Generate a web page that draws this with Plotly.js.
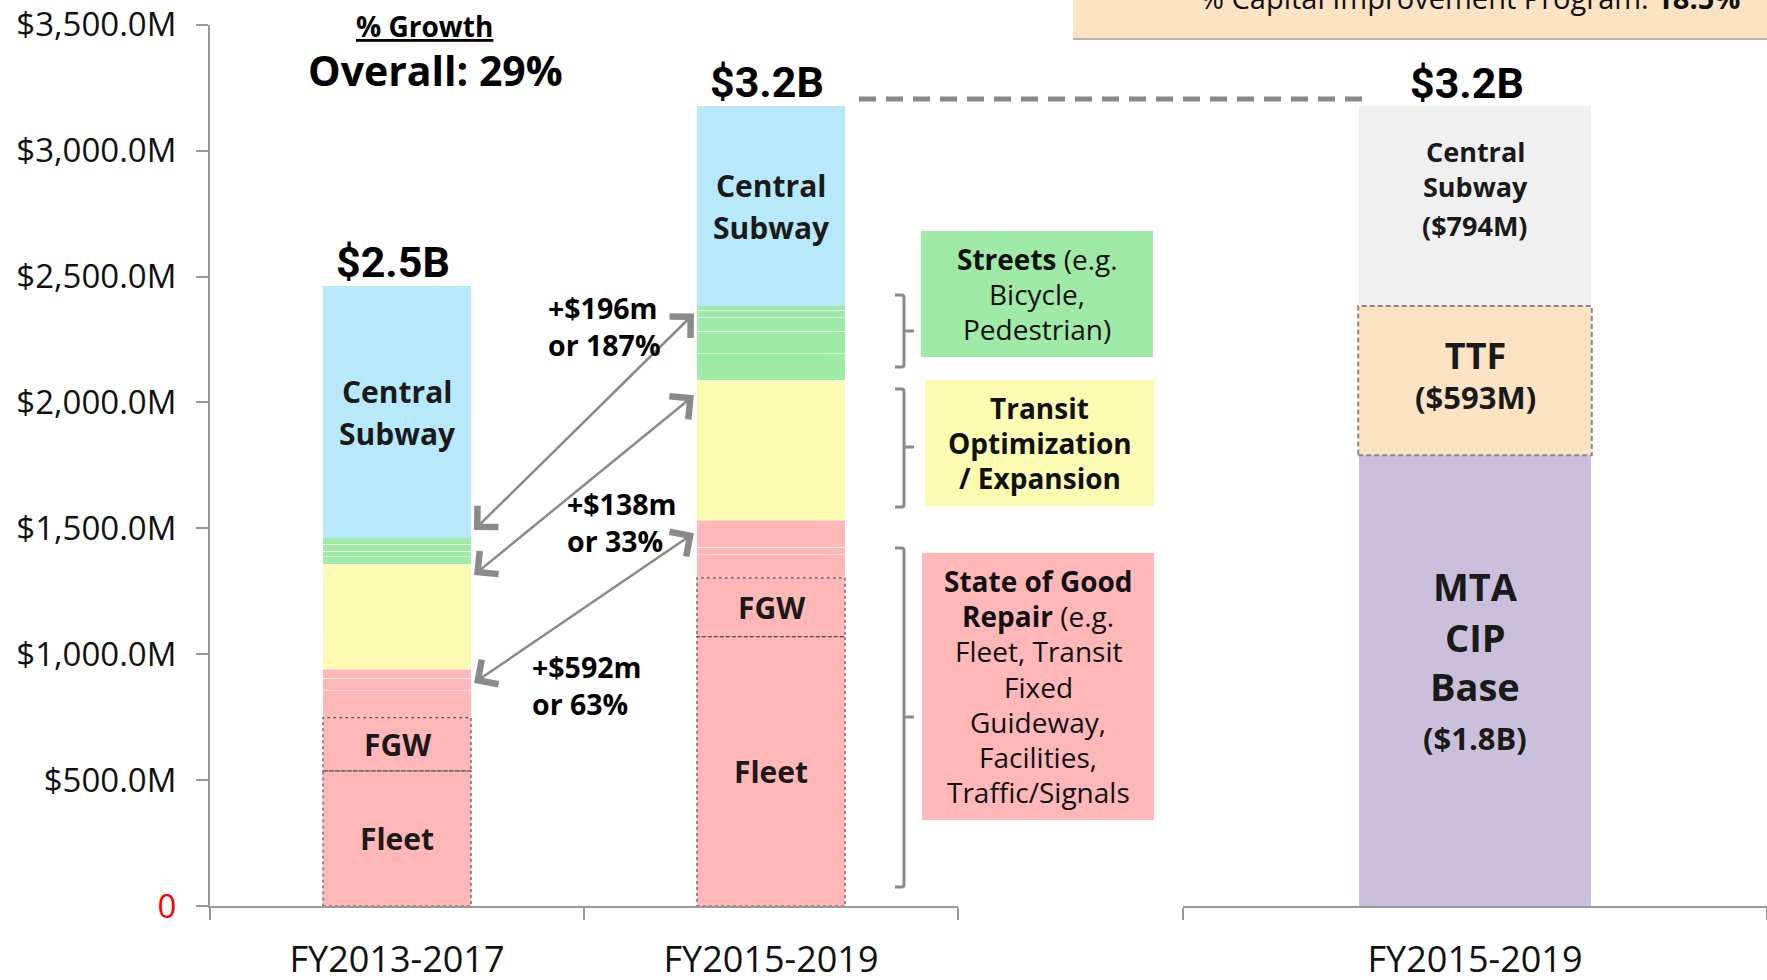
<!DOCTYPE html>
<html><head><meta charset="utf-8">
<script src="https://cdn.plot.ly/plotly-3.0.1.min.js"></script>
<style>html,body{margin:0;padding:0;background:#fff;} #chart{width:1767px;height:980px;}</style>
</head><body><div id="chart"></div>
<script>
// ---------- data ----------
const categories = ['FY2013-2017', 'FY2015-2019'];
const fleet = [537, 1070];
const fgw = [211, 233];
const sgrPartA = [106, 92];
const sgrPartB = [51, 30];
const sgrPartC = [35, 107];
const transit = [418, 556];
const streetsA = [29, 106];
const streetsB = [23, 89];
const streetsC = [27, 53];
const streetsD = [26, 31];
const streetsE = [null, 17];
const centralSubway = [1001, 794];

const fundingCategory = ['FY2015-2019'];
const mtaCipBase = [1790];
const ttf = [593];
const centralSubwayFunding = [794];

const yTickValues = [0, 500, 1000, 1500, 2000, 2500, 3000, 3500];
const yTickLabels = ['<span style="color:#ff0000">0</span>', '$500.0M', '$1,000.0M', '$1,500.0M', '$2,000.0M', '$2,500.0M', '$3,000.0M', '$3,500.0M'];

const growthLabels = ['+$196m<br>or 187%', '+$138m<br>or 33%', '+$592m<br>or 63%'];

// ---------- helpers ----------
const W = 1767, H = 980;
const px = x => x / W;
const py = y => 1 - y / H;
const BW = 0.396;
const FONT = '"Open Sans", "Noto Sans", sans-serif';
const sum = (arrs, i) => arrs.reduce((s, a) => s + (a[i] || 0), 0);

const COL = {
  cs: '#B7E9FB', green: '#9EEAA6', yellow: '#FBFBB1', red: '#FFB7B7',
  gray: '#F0F0F0', ttf: '#FBE3C4', mta: '#CBC0DB'
};

function bar(name, y, color, faint) {
  return {
    type: 'bar', name, x: categories, y, xaxis: 'x', yaxis: 'y',
    marker: {color, line: {width: faint ? 1 : 0, color: faint ? 'rgba(255,255,255,0.5)' : color}},
    hoverinfo: 'y+name'
  };
}
function bar2(name, y, color) {
  return {
    type: 'bar', name, x: fundingCategory, y, xaxis: 'x2', yaxis: 'y',
    marker: {color, line: {width: 0}}, hoverinfo: 'y+name'
  };
}

const traces = [
  bar('Fleet', fleet, COL.red),
  bar('FGW', fgw, COL.red),
  bar('SGR A', sgrPartA, COL.red, true),
  bar('SGR B', sgrPartB, COL.red, true),
  bar('SGR C', sgrPartC, COL.red, true),
  bar('Transit Optimization / Expansion', transit, COL.yellow),
  bar('Streets A', streetsA, COL.green, true),
  bar('Streets B', streetsB, COL.green, true),
  bar('Streets C', streetsC, COL.green, true),
  bar('Streets D', streetsD, COL.green, true),
  bar('Streets E', streetsE, COL.green, true),
  bar('Central Subway', centralSubway, COL.cs),
  bar2('MTA CIP Base', mtaCipBase, COL.mta),
  bar2('TTF', ttf, COL.ttf),
  bar2('Central Subway', centralSubwayFunding, COL.gray)
];

// segment tops
const sgrTop = [0, 1].map(i => sum([fleet, fgw, sgrPartA, sgrPartB, sgrPartC], i));
const transitTop = [0, 1].map(i => sgrTop[i] + transit[i]);
const streetsTop = [0, 1].map(i => transitTop[i] + sum([streetsA, streetsB, streetsC, streetsD, streetsE], i));
const totals = [0, 1].map(i => streetsTop[i] + centralSubway[i]);
const rightTotal = mtaCipBase[0] + ttf[0] + centralSubwayFunding[0];

const shapes = [];
const annotations = [];

// multi-line label in data coords: one annotation per line
function lines(xref, x, y, items) {
  items.forEach(([t, size, shift]) => {
    annotations.push({xref, yref: 'y', x, y, yshift: shift, xanchor: 'center', yanchor: 'middle',
      text: '<b>' + t + '</b>', showarrow: false, font: {family: FONT, size, color: '#1a1a1a'}});
  });
}
// multi-line label in pixel coords with fixed spacing
function plines(xPx, yCenterPx, items, spacing, size, anchor, color) {
  const n = items.length;
  items.forEach((t, k) => {
    annotations.push({xref: 'paper', yref: 'paper', x: px(xPx), y: py(yCenterPx + (k - (n - 1) / 2) * spacing),
      xanchor: anchor, yanchor: 'middle', text: t, showarrow: false,
      font: {family: FONT, size, color: color || '#111'}});
  });
}

// dotted borders for Fleet and FGW
[0, 1].forEach(i => {
  shapes.push({type: 'rect', xref: 'x', yref: 'y', x0: i - BW / 2, x1: i + BW / 2, y0: 0, y1: fleet[i],
    line: {color: '#555', width: 1.2, dash: 'dot'}, fillcolor: 'rgba(0,0,0,0)'});
  shapes.push({type: 'rect', xref: 'x', yref: 'y', x0: i - BW / 2, x1: i + BW / 2, y0: fleet[i], y1: fleet[i] + fgw[i],
    line: {color: '#555', width: 1.2, dash: 'dot'}, fillcolor: 'rgba(0,0,0,0)'});
});
// dashed border TTF
shapes.push({type: 'rect', xref: 'x2', yref: 'y', x0: -0.2, x1: 0.2, y0: mtaCipBase[0], y1: mtaCipBase[0] + ttf[0],
  line: {color: '#8a8a8a', width: 2, dash: '5px,3px'}, fillcolor: 'rgba(0,0,0,0)'});

// top right box
shapes.push({type: 'rect', xref: 'paper', yref: 'paper', x0: px(1073), x1: px(1767), y0: py(38), y1: py(-5),
  fillcolor: '#FBE3C3', line: {width: 0}, layer: 'below'});
shapes.push({type: 'line', xref: 'paper', yref: 'paper', x0: px(1073), x1: px(1767), y0: py(39), y1: py(39),
  line: {color: '#b5b5b5', width: 2}});

// dashed connector line
shapes.push({type: 'line', xref: 'paper', yref: 'paper', x0: px(859), x1: px(1364), y0: py(99), y1: py(99),
  line: {color: '#888', width: 5, dash: '17px,10px'}});

// category boxes
const boxes = [
  {x0: 921, x1: 1153, y0: 231, y1: 357, color: COL.green,
   lines: ['<b>Streets</b> (e.g.', 'Bicycle,', 'Pedestrian)']},
  {x0: 925, x1: 1154, y0: 380, y1: 506, color: COL.yellow,
   lines: ['<b>Transit</b>', '<b>Optimization</b>', '<b>/ Expansion</b>']},
  {x0: 922, x1: 1154, y0: 553, y1: 820, color: COL.red,
   lines: ['<b>State of Good</b>', '<b>Repair</b> (e.g.', 'Fleet, Transit', 'Fixed', 'Guideway,', 'Facilities,', 'Traffic/Signals']}
];
boxes.forEach(b => {
  shapes.push({type: 'rect', xref: 'paper', yref: 'paper', x0: px(b.x0), x1: px(b.x1), y0: py(b.y1), y1: py(b.y0),
    fillcolor: b.color, line: {width: 0}});
  plines((b.x0 + b.x1) / 2, (b.y0 + b.y1) / 2, b.lines, 35.2, 28, 'center');
});

// brackets
const brackets = [[295, 367, 331], [389, 507, 447], [548, 887, 717]];
brackets.forEach(([t, b, m]) => {
  const xl = 895, xv = 904, xp = 914;
  const path = `M ${px(xl)},${py(t)} L ${px(xv - 2)},${py(t)} Q ${px(xv)},${py(t)} ${px(xv)},${py(t + 3)} ` +
    `L ${px(xv)},${py(b - 3)} Q ${px(xv)},${py(b)} ${px(xv - 2)},${py(b)} L ${px(xl)},${py(b)} ` +
    `M ${px(xv)},${py(m)} L ${px(xp)},${py(m)}`;
  shapes.push({type: 'path', xref: 'paper', yref: 'paper', path, line: {color: '#8a8a8a', width: 3}});
});

// growth titles
annotations.push({xref: 'paper', yref: 'paper', x: px(424), y: py(26), xanchor: 'center', yanchor: 'middle',
  text: '<b><u>% Growth</u></b>', showarrow: false, font: {family: FONT, size: 28, color: '#000'}});
annotations.push({xref: 'paper', yref: 'paper', x: px(435), y: py(70), xanchor: 'center', yanchor: 'middle',
  text: '<b>Overall: 29%</b>', showarrow: false, font: {family: FONT, size: 41, color: '#000'}});
annotations.push({xref: 'paper', yref: 'paper', x: px(1470), y: py(-2), xanchor: 'center', yanchor: 'middle',
  text: '% Capital Improvement Program: <b>18.5%</b>', showarrow: false, font: {family: FONT, size: 29, color: '#111'}});

// totals
[0, 1].forEach(i => {
  annotations.push({xref: 'x', yref: 'y', x: i, y: totals[i], xanchor: 'center', yanchor: 'bottom', xshift: -4, yshift: -3,
    text: '<b>$' + (totals[i] / 1000).toFixed(1) + 'B</b>', showarrow: false,
    font: {family: 'Roboto, sans-serif', size: 43, color: '#000'}});
});
annotations.push({xref: 'x2', yref: 'y', x: 0, y: rightTotal, xanchor: 'center', yanchor: 'bottom', xshift: -8, yshift: -4,
  text: '<b>$' + (rightTotal / 1000).toFixed(1) + 'B</b>', showarrow: false,
  font: {family: 'Roboto, sans-serif', size: 43, color: '#000'}});

// segment labels
[0, 1].forEach(i => {
  lines('x', i, (streetsTop[i] + totals[i]) / 2, [['Central', 30, 20], ['Subway', 30, -22]]);
  lines('x', i, fleet[i] + fgw[i] / 2, [['FGW', 30, 0]]);
  lines('x', i, fleet[i] / 2, [['Fleet', 30, 0]]);
});
const rBase = mtaCipBase[0], rTtf = rBase + ttf[0];
lines('x2', 0, (rTtf + rightTotal) / 2, [['Central', 27, 55], ['Subway', 27, 20], ['($794M)', 27, -19]]);
annotations.push({xref: 'x2', yref: 'y', x: 0, y: (rBase + rTtf) / 2, yshift: 6, xanchor: 'center', yanchor: 'middle',
  text: '<b><span style="font-size:36px">TTF</span><br>($593M)</b>', showarrow: false,
  font: {family: FONT, size: 31, color: '#1a1a1a'}});
lines('x2', 0, rBase / 2, [['MTA', 38, 95], ['CIP', 38, 44], ['Base', 38, -5], ['($1.8B)', 31, -57]]);

// growth arrows (left tip on FY2013-2017 bar, right tip on FY2015-2019 bar)
const leftTops = [streetsTop[0], transitTop[0], sgrTop[0]];
const rightTops = [streetsTop[1], transitTop[1], sgrTop[1]];
const leftOffsets = [30, -43, -54];
const rightOffsets = [-25, -55, -47];
leftTops.forEach((lt, k) => {
  annotations.push({xref: 'x', yref: 'y', axref: 'x', ayref: 'y',
    x: BW / 2 + 0.008, y: lt + leftOffsets[k], ax: 1 - BW / 2 - 0.004, ay: rightTops[k] + rightOffsets[k],
    text: '', showarrow: true, arrowside: 'end+start', arrowhead: 4, startarrowhead: 4,
    arrowsize: 2.3, startarrowsize: 2.3, arrowwidth: 2.5, arrowcolor: '#8a8a8a', standoff: 0, startstandoff: 0});
});
const labelPos = [[546, 326], [565, 522], [530, 685]];
growthLabels.forEach((t, k) => {
  annotations.push({xref: 'paper', yref: 'paper', x: px(labelPos[k][0]), y: py(labelPos[k][1]),
    xanchor: 'left', yanchor: 'middle', align: 'left', text: '<b>' + t + '</b>', showarrow: false,
    font: {family: FONT, size: 28.5, color: '#000'}});
});

const axisLine = '#9a9a9a';
const xAxisCommon = {
  type: 'category', anchor: 'y',
  showline: true, linecolor: axisLine, linewidth: 2,
  ticks: 'outside', tickson: 'boundaries', ticklen: 12, tickwidth: 2, tickcolor: axisLine,
  tickfont: {family: FONT, size: 36, color: '#111'}, ticklabelstandoff: 21,
  showgrid: false, zeroline: false, fixedrange: true
};
const layout = {
  width: W, height: H,
  margin: {l: 0, r: 0, t: 0, b: 0},
  paper_bgcolor: '#fff', plot_bgcolor: 'rgba(0,0,0,0)',
  barmode: 'stack', bargap: 1 - BW,
  showlegend: false,
  font: {family: FONT, color: '#111'},
  xaxis: Object.assign({domain: [px(210), px(958)]}, xAxisCommon),
  xaxis2: Object.assign({domain: [px(1183), 1]}, xAxisCommon),
  yaxis: {
    domain: [74 / H, 1 - 24.8 / H], range: [0, 3500], anchor: 'x',
    tickmode: 'array', tickvals: yTickValues, ticktext: yTickLabels,
    showline: true, linecolor: axisLine, linewidth: 2,
    ticks: 'outside', ticklen: 12, tickwidth: 2, tickcolor: axisLine,
    tickfont: {family: FONT, size: 33, color: '#111'}, ticklabelstandoff: 13,
    showgrid: false, zeroline: false, fixedrange: true
  },
  shapes, annotations
};

Plotly.newPlot('chart', traces, layout, {displayModeBar: false, staticPlot: true});
</script></body></html>
